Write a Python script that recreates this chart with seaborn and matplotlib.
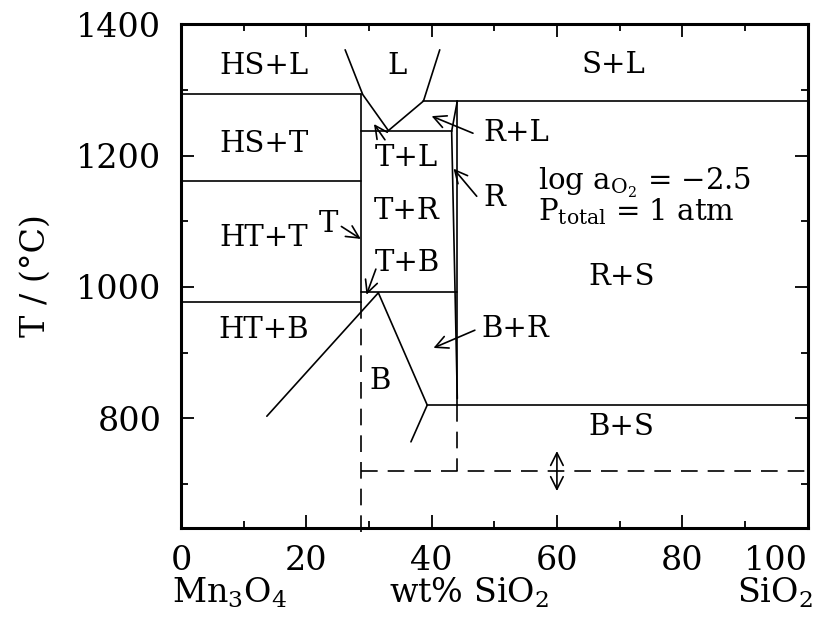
"""Mn3O4-SiO2 phase diagram at log a_O2 = -2.5."""
import matplotlib
matplotlib.use("Agg")
import matplotlib.pyplot as plt
import seaborn as sns

# phase boundaries: x = wt% SiO2, t = temperature (°C)
hs_l_x, hs_l_t = [0, 28.8], [1293, 1293]
hs_t_x, hs_t_t = [0, 28.8], [1161, 1161]
ht_b_x, ht_b_t = [0, 28.8], [977, 977]
teph_x, teph_t = [28.8, 28.8], [977, 1293]
liq_left_x, liq_left_t = [26.2, 29.0, 33.1], [1361, 1293, 1238]
liq_right_x, liq_right_t = [33.1, 38.7, 41.3], [1238, 1283, 1361]
rl_x, rl_t = [38.7, 100], [1283, 1283]
tl_x, tl_t = [28.8, 43.2], [1237, 1237]
tb_x, tb_t = [28.8, 44.0], [992, 992]
r_right_x, r_right_t = [44.1, 44.1], [1283, 820]
r_left_x, r_left_t = [44.1, 43.2, 44.1], [1283, 1237, 830]
b_left_x, b_left_t = [13.7, 31.5], [803, 991]
b_right_x, b_right_t = [31.5, 39.3, 36.7], [991, 820, 764]
bs_x, bs_t = [39.3, 100], [820, 820]

# dashed lines
dash1_x, dash1_t = [28.8, 28.8], [977, 625]
dash2_x, dash2_t = [28.8, 100], [719, 719]
dash3_x, dash3_t = [44.1, 44.1], [820, 719]

# field labels
field_names = ["HS+L", "L", "S+L", "HS+T", "T+L", "T+R", "T+B",
               "HT+T", "HT+B", "B", "R+S", "B+S"]
field_x = [13.2, 34.5, 69.0, 13.2, 36.0, 36.1, 36.1, 13.2, 13.2, 31.8, 70.3, 70.3]
field_t = [1336, 1336, 1338, 1217, 1197, 1115, 1036, 1075, 935, 856, 1015, 786]

# labels pointing with arrows
side_names = ["R+L", "R", "B+R"]
side_x = [48.2, 48.2, 48.0]
side_t = [1235, 1135, 936]

arrow_tail_x = [32.55, 46.6, 47.2, 25.6, 31.1, 46.9]
arrow_tail_t = [1224, 1234, 1138, 1092, 1027, 934]
arrow_head_x = [30.8, 40.0, 43.5, 28.7, 29.6, 40.3]
arrow_head_t = [1248, 1260, 1180, 1073, 988, 907]

range_x = 60
range_t = [750, 689]

sns.set_theme(style="ticks")
plt.rcParams["font.family"] = ["DejaVu Serif"]
plt.rcParams["mathtext.fontset"] = "dejavuserif"
plt.rcParams["mathtext.default"] = "regular"
for k in ["text.color", "axes.labelcolor", "xtick.color", "ytick.color",
          "axes.edgecolor"]:
    plt.rcParams[k] = "black"

fig = plt.figure(figsize=(8.19, 6.21), dpi=100)
ax = fig.add_axes([0.221, 0.150, 0.765, 0.811])

LW = 1.2


def seg(x, t, dashed=False):
    sns.lineplot(x=x, y=t, sort=False, estimator=None, color="black",
                 lw=LW, ax=ax, clip_on=not dashed,
                 linestyle=(0, (10, 6)) if dashed else "-")


for x, t in [(hs_l_x, hs_l_t), (hs_t_x, hs_t_t), (ht_b_x, ht_b_t),
             (teph_x, teph_t), (liq_left_x, liq_left_t),
             (liq_right_x, liq_right_t), (rl_x, rl_t), (tl_x, tl_t),
             (tb_x, tb_t), (r_right_x, r_right_t), (r_left_x, r_left_t),
             (b_left_x, b_left_t), (b_right_x, b_right_t), (bs_x, bs_t)]:
    seg(x, t)
for x, t in [(dash1_x, dash1_t), (dash2_x, dash2_t), (dash3_x, dash3_t)]:
    seg(x, t, dashed=True)

FS = 21
for name, x, t in zip(field_names, field_x, field_t):
    ax.text(x, t, name, ha="center", va="center", fontsize=FS)
for name, x, t in zip(side_names, side_x, side_t):
    ax.text(x, t, name, ha="left", va="center", fontsize=FS)
ax.text(23.5, 1096, "T", ha="center", va="center", fontsize=FS)

aprops = dict(arrowstyle="->,head_length=0.5,head_width=0.25",
              lw=LW, color="black", mutation_scale=18, shrinkA=0, shrinkB=0)
for tx, tt, hx, ht in zip(arrow_tail_x, arrow_tail_t, arrow_head_x, arrow_head_t):
    ax.annotate("", xy=(hx, ht), xytext=(tx, tt), arrowprops=aprops)
ax.annotate("", xy=(range_x, range_t[1]), xytext=(range_x, range_t[0]),
            arrowprops=dict(aprops, arrowstyle="<->,head_length=0.5,head_width=0.25"))

ax.text(57.0, 1148, "log a$_{O_2}$ = \u22122.5", ha="left",
        va="baseline", fontsize=FS)
ax.text(57.0, 1102, "P$_{total}$ = 1 atm", ha="left",
        va="baseline", fontsize=FS)

ax.set_xlim(0, 100)
ax.set_ylim(633, 1400)
ax.set_xticks([0, 20, 40, 60, 80, 100])
ax.set_xticks([10, 30, 50, 70, 90], minor=True)
ax.set_yticks([800, 1000, 1200, 1400])
ax.set_yticks([700, 900, 1100, 1300], minor=True)
ax.tick_params(which="both", direction="in", top=True, right=True,
               width=1.3, color="black", labelsize=24)
ax.tick_params(which="major", length=9.5)
ax.tick_params(which="minor", length=5)
ax.tick_params(axis="x", pad=12)
ax.tick_params(axis="y", pad=14)
ax.get_xticklabels()[-1].set_horizontalalignment("right")
for s in ax.spines.values():
    s.set_linewidth(2.2)
    s.set_color("black")

ax.set_xlabel("")
ax.set_ylabel("T / (°C)", fontsize=24)
ax.yaxis.set_label_coords(-0.207, 0.5)

ax.text(-0.015, -0.149, "Mn$_3$O$_4$", transform=ax.transAxes,
        ha="left", va="baseline", fontsize=24)
ax.text(0.459, -0.149, "wt% SiO$_2$", transform=ax.transAxes,
        ha="center", va="baseline", fontsize=24)
ax.text(1.009, -0.149, "SiO$_2$", transform=ax.transAxes,
        ha="right", va="baseline", fontsize=24)

fig.savefig("out.png", dpi=100)
